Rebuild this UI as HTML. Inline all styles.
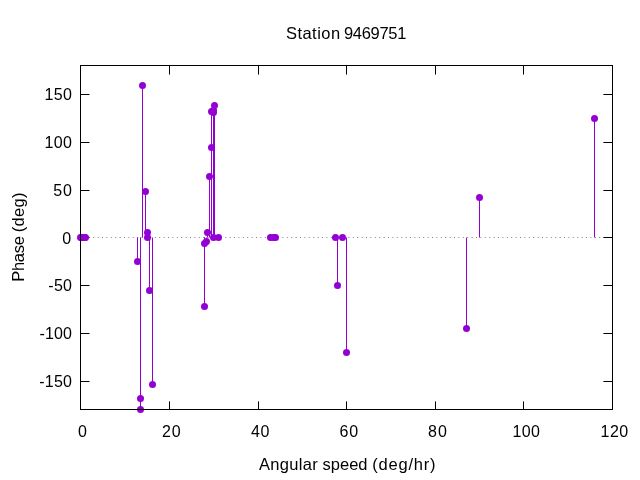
<!DOCTYPE html>
<html><head><meta charset="utf-8"><title>Station 9469751</title>
<style>
html,body{margin:0;padding:0;background:#fff;}
svg{display:block;}
text{font-family:"Liberation Sans","DejaVu Sans",sans-serif;fill:#000;}
</style></head><body>
<svg width="640" height="480" viewBox="0 0 640 480">
<rect x="0" y="0" width="640" height="480" fill="#fff"/>

<path d="M80 237.5 H612.5" stroke="#808080" stroke-width="1" stroke-dasharray="1 3.4" fill="none"/>
<g stroke="#000" stroke-width="1" fill="none">
<path d="M80.50 409.5 V401.4 M80.50 65.5 V74.5"/>
<path d="M169.50 409.5 V401.4 M169.50 65.5 V74.5"/>
<path d="M258.50 409.5 V401.4 M258.50 65.5 V74.5"/>
<path d="M346.50 409.5 V401.4 M346.50 65.5 V74.5"/>
<path d="M435.50 409.5 V401.4 M435.50 65.5 V74.5"/>
<path d="M523.50 409.5 V401.4 M523.50 65.5 V74.5"/>
<path d="M612.50 409.5 V401.4 M612.50 65.5 V74.5"/>
<path d="M80.5 381.50 H89.5 M612.5 381.50 H603.4"/>
<path d="M80.5 333.50 H89.5 M612.5 333.50 H603.4"/>
<path d="M80.5 285.50 H89.5 M612.5 285.50 H603.4"/>
<path d="M80.5 237.50 H89.5 M612.5 237.50 H603.4"/>
<path d="M80.5 190.50 H89.5 M612.5 190.50 H603.4"/>
<path d="M80.5 142.50 H89.5 M612.5 142.50 H603.4"/>
<path d="M80.5 94.50 H89.5 M612.5 94.50 H603.4"/>
</g>
<g stroke="#9400d3" stroke-width="1" fill="none">
<path d="M137.5 237.5 V261.5"/>
<path d="M140.5 237.5 V398.5"/>
<path d="M140.5 237.5 V409.5"/>
<path d="M142.5 237.5 V85.5"/>
<path d="M145.5 237.5 V191.5"/>
<path d="M147.5 237.5 V232.5"/>
<path d="M149.5 237.5 V290.5"/>
<path d="M152.5 237.5 V384.5"/>
<path d="M204.5 237.5 V306.5"/>
<path d="M204.5 237.5 V243.5"/>
<path d="M207.5 237.5 V232.5"/>
<path d="M206.5 237.5 V241.5"/>
<path d="M209.5 237.5 V176.5"/>
<path d="M211.5 237.5 V147.5"/>
<path d="M211.5 237.5 V111.5"/>
<path d="M213.5 237.5 V110.5"/>
<path d="M213.5 237.5 V112.5"/>
<path d="M214.5 237.5 V105.5"/>
<path d="M337.5 237.5 V285.5"/>
<path d="M346.5 237.5 V352.5"/>
<path d="M466.5 237.5 V328.5"/>
<path d="M479.5 237.5 V197.5"/>
<path d="M594.5 237.5 V118.5"/>
</g>
<g fill="#9400d3" stroke="none">
<circle cx="80.5" cy="237.5" r="3.5"/>
<circle cx="81.5" cy="237.5" r="3.5"/>
<circle cx="82.5" cy="237.5" r="3.5"/>
<circle cx="84.5" cy="237.5" r="3.5"/>
<circle cx="85.5" cy="237.5" r="3.5"/>
<circle cx="137.5" cy="261.5" r="3.5"/>
<circle cx="140.5" cy="398.5" r="3.5"/>
<circle cx="140.5" cy="409.5" r="3.5"/>
<circle cx="142.5" cy="85.5" r="3.5"/>
<circle cx="145.5" cy="191.5" r="3.5"/>
<circle cx="147.5" cy="237.5" r="3.5"/>
<circle cx="147.5" cy="232.5" r="3.5"/>
<circle cx="149.5" cy="290.5" r="3.5"/>
<circle cx="152.5" cy="384.5" r="3.5"/>
<circle cx="204.5" cy="306.5" r="3.5"/>
<circle cx="204.5" cy="243.5" r="3.5"/>
<circle cx="207.5" cy="232.5" r="3.5"/>
<circle cx="206.5" cy="241.5" r="3.5"/>
<circle cx="209.5" cy="176.5" r="3.5"/>
<circle cx="211.5" cy="147.5" r="3.5"/>
<circle cx="211.5" cy="111.5" r="3.5"/>
<circle cx="213.5" cy="110.5" r="3.5"/>
<circle cx="213.5" cy="112.5" r="3.5"/>
<circle cx="213.5" cy="237.5" r="3.5"/>
<circle cx="214.5" cy="105.5" r="3.5"/>
<circle cx="218.5" cy="237.5" r="3.5"/>
<circle cx="270.5" cy="237.5" r="3.5"/>
<circle cx="273.5" cy="237.5" r="3.5"/>
<circle cx="275.5" cy="237.5" r="3.5"/>
<circle cx="335.5" cy="237.5" r="3.5"/>
<circle cx="337.5" cy="285.5" r="3.5"/>
<circle cx="342.5" cy="237.5" r="3.5"/>
<circle cx="346.5" cy="352.5" r="3.5"/>
<circle cx="466.5" cy="328.5" r="3.5"/>
<circle cx="479.5" cy="197.5" r="3.5"/>
<circle cx="594.5" cy="118.5" r="3.5"/>
</g>
<rect x="80.5" y="65.5" width="532.0" height="344.0" fill="none" stroke="#000" stroke-width="1"/>
<g>
<text x="39.29" y="387" dx="0 0.214 0.214 0.214" style="font-size:16px">-150</text>
<text x="39.51" y="339" dx="0 0.092 0.092 0.092" style="font-size:16px">-100</text>
<text x="48.27" y="291" dx="0 0.278 0.278" style="font-size:16px">-50</text>
<text x="62.33" y="244" style="font-size:16px">0</text>
<text x="53.19" y="196" dx="0 0.843" style="font-size:16px">50</text>
<text x="44.54" y="148" dx="0 0.345 0.345" style="font-size:16px">100</text>
<text x="44.54" y="100" dx="0 0.345 0.345" style="font-size:16px">150</text>
<text x="77.97" y="437" style="font-size:16px">0</text>
<text x="162.00" y="437" dx="0 0.898" style="font-size:16px">20</text>
<text x="250.94" y="437" dx="0 0.690" style="font-size:16px">40</text>
<text x="339.57" y="437" dx="0 0.792" style="font-size:16px">60</text>
<text x="428.02" y="437" dx="0 1.055" style="font-size:16px">80</text>
<text x="512.59" y="437" dx="0 0.257 0.257" style="font-size:16px">100</text>
<text x="600.54" y="437" dx="0 0.480 0.480" style="font-size:16px">120</text>
<text style="font-size:16.5px"><tspan x="285.95" y="39" dx="0 0.459 0.459 0.459 0.459 0.459 0.459">Station</tspan> <tspan x="344.00" y="39" dx="0 -0.328 -0.328 -0.328 -0.328 -0.328 -0.328">9469751</tspan></text>
<text style="font-size:16.5px"><tspan x="259.05" y="470" dx="0 0.298 0.298 0.298 0.298 0.298 0.298">Angular</tspan> <tspan x="322.58" y="470" dx="0 -0.024 -0.024 -0.024 -0.024">speed</tspan> <tspan x="372.30" y="470" dx="0 0.776 0.776 0.776 0.776 0.776 0.776 0.776">(deg/hr)</tspan></text>
<text transform="translate(24.00,0) rotate(-90)" style="font-size:16.5px"><tspan x="-281.79" y="0" dx="0 -0.301 -0.301 -0.301 -0.301">Phase</tspan> <tspan x="-232.13" y="0" dx="0 0.251 0.251 0.251 0.251">(deg)</tspan></text>
</g>
</svg></body></html>
